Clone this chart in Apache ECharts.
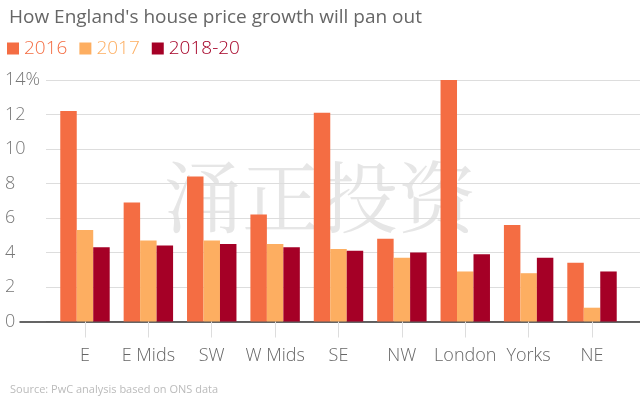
<!DOCTYPE html>
<html>
<head>
<meta charset="utf-8">
<script src="https://cdn.jsdelivr.net/npm/echarts@6/dist/echarts.min.js"></script>
<style>
	html, body { margin: 0; padding: 0; background: #fff; }
	#main { width: 640px; height: 396px; }
</style>
</head>
<body>
<div id="main"></div>
<script>
	var regions = ['E', 'E Mids', 'SW', 'W Mids', 'SE', 'NW', 'London', 'Yorks', 'NE'];
	var growth2016 = [12.2, 6.9, 8.4, 6.2, 12.1, 4.8, 14.0, 5.6, 3.4];
	var growth2017 = [5.3, 4.7, 4.7, 4.5, 4.2, 3.7, 2.9, 2.8, 0.8];
	var growth2018to20 = [4.3, 4.4, 4.5, 4.3, 4.1, 4.0, 3.9, 3.7, 2.9];
	var yTicks = [0, 2, 4, 6, 8, 10, 12, 14];

	var font = '"Open Sans", "Noto Sans", sans-serif';
	var gridTop = 80, gridBottom = 74.5;

	var chart = echarts.init(document.getElementById('main'));

	function bar(name, data, color) {
		return {
			name: name,
			type: 'bar',
			xAxisIndex: 2,
			yAxisIndex: 2,
			data: data,
			barGap: '0%',
			barCategoryGap: '22%',
			itemStyle: { color: color },
			emphasis: { disabled: true }
		};
	}

	chart.setOption({
		animation: false,
		textStyle: { fontFamily: font },
		title: [{
			text: "How England's house price growth will pan out",
			left: 4, top: 3,
			textStyle: { fontSize: 19, fontWeight: 'normal', color: '#666', fontFamily: font }
		}, {
			text: 'Source: PwC analysis based on ONS data',
			left: 5, top: 379,
			textStyle: { fontSize: 11, fontWeight: 'normal', color: '#bbb', fontFamily: font }
		}],
		legend: {
			left: 2, top: 34,
			icon: 'rect', itemWidth: 12, itemHeight: 12, itemGap: 12,
			textStyle: { fontSize: 19, fontWeight: 300, fontFamily: font },
			data: [
				{ name: '2016', textStyle: { color: '#f46d43' } },
				{ name: '2017', textStyle: { color: '#fdae61' } },
				{ name: '2018-20', textStyle: { color: '#a50026' } }
			]
		},
		graphic: [{
			type: 'text', left: 'center', top: 158, z: -10, silent: true,
			style: {
				text: '涌正投资',
				font: '78px "Noto Serif CJK SC", "Noto Sans CJK SC", serif',
				fill: '#e6e6e6'
			}
		}],
		grid: [
			{ left: 46, right: 0, top: gridTop, bottom: gridBottom },
			{ left: 20, right: 0, top: gridTop, bottom: gridBottom },
			{ left: 53.3, right: 16.3, top: gridTop, bottom: gridBottom }
		],
		xAxis: [
			{ gridIndex: 0, type: 'value', show: false },
			{
				gridIndex: 1, type: 'value', min: 0, max: 1,
				axisLine: { show: true, lineStyle: { color: '#333', width: 1.5 } },
				axisTick: { show: false }, axisLabel: { show: false }, splitLine: { show: false }
			},
			{
				gridIndex: 2, type: 'category', data: regions,
				axisLine: { show: false },
				axisTick: { show: true, interval: 0, alignWithLabel: true, length: 16, lineStyle: { color: '#ddd' } },
				axisLabel: { interval: 0, margin: 25, fontSize: 18, fontWeight: 300, color: '#666', fontFamily: font }
			}
		],
		yAxis: [
			{
				gridIndex: 0, type: 'value', min: 0, max: 14, interval: 2,
				axisLine: { show: false }, axisTick: { show: false },
				splitLine: { lineStyle: { color: '#ddd' } },
				axisLabel: {
					align: 'left', margin: 41, fontSize: 18, fontWeight: 300, color: '#777', fontFamily: font,
					formatter: function(v) { return v === yTicks[yTicks.length - 1] ? v + '%' : String(v); }
				}
			},
			{ gridIndex: 1, type: 'value', min: 0, max: 14, show: false },
			{ gridIndex: 2, type: 'value', min: 0, max: 14, show: false }
		],
		series: [
			bar('2016', growth2016, '#f46d43'),
			bar('2017', growth2017, '#fdae61'),
			bar('2018-20', growth2018to20, '#a50026')
		]
	});
</script>
</body>
</html>
